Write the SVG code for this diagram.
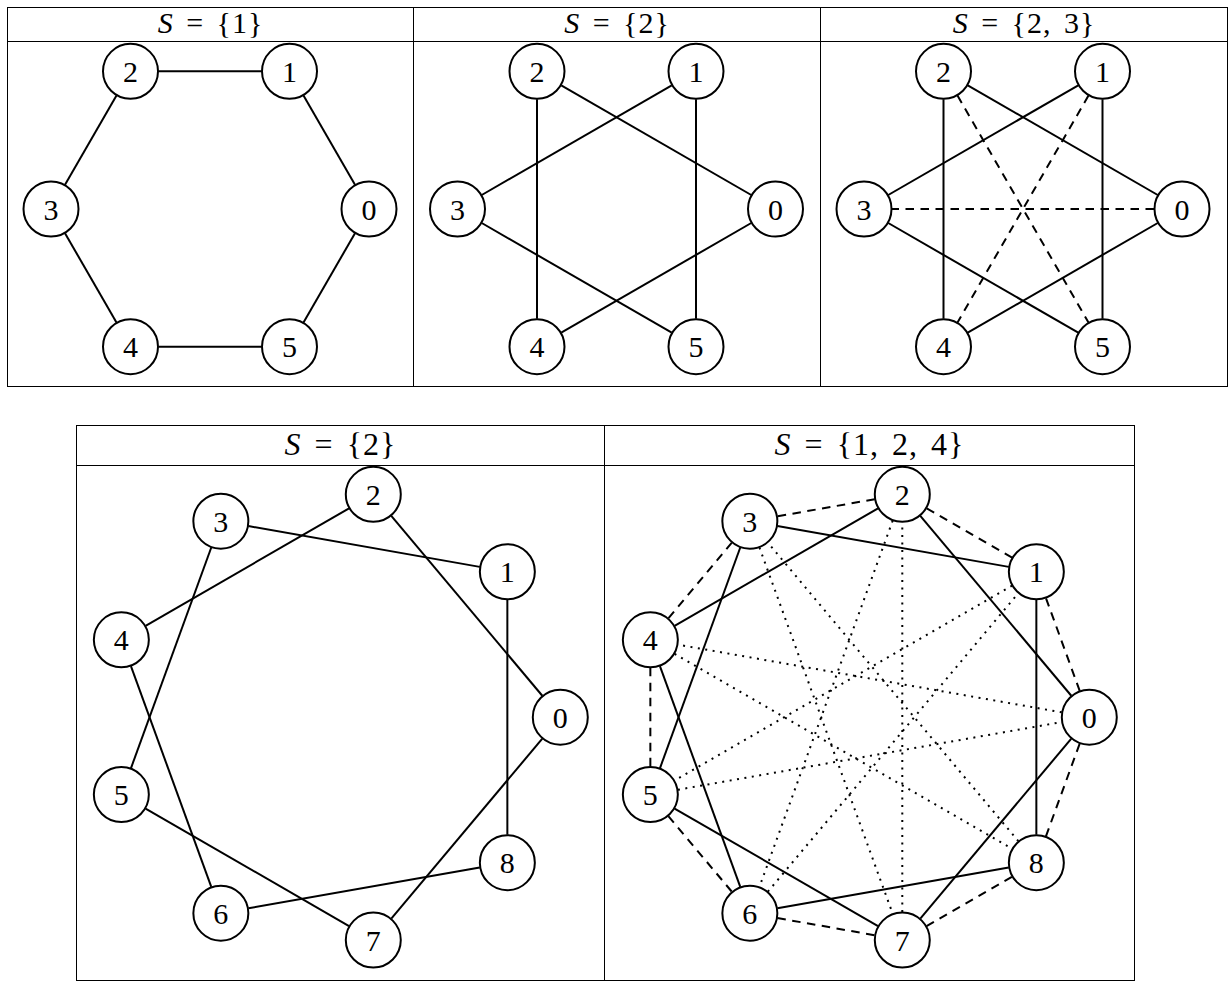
<svg xmlns="http://www.w3.org/2000/svg" width="1230" height="982" viewBox="0 0 1230 982">
<style>
.frame{fill:none;stroke:#000;stroke-width:1}
.node circle{fill:#fff;stroke:#000;stroke-width:2}
.node text{font-family:"Liberation Serif","Times New Roman",serif;font-size:30px;text-anchor:middle;fill:#000}
.hdr{font-family:"Liberation Serif","Times New Roman",serif;font-size:30px;text-anchor:middle;fill:#000;letter-spacing:1px;word-spacing:4px}
.hdr2{font-size:32px}
.e line{stroke:#000;stroke-width:2;fill:none}
.dash{stroke-dasharray:8.5 6.5}
.dot{stroke-dasharray:2 5.5}
</style>
<rect width="1230" height="982" fill="#fff"/>
<g id="tables">
  <rect class="frame" x="7.5" y="7.5" width="1220" height="379"/>
  <line class="frame" x1="7.5" y1="41.5" x2="1227.5" y2="41.5"/>
  <line class="frame" x1="413.5" y1="7.5" x2="413.5" y2="386.5"/>
  <line class="frame" x1="820.5" y1="7.5" x2="820.5" y2="386.5"/>
  <rect class="frame" x="76.5" y="425.5" width="1058" height="555"/>
  <line class="frame" x1="76.5" y1="465.5" x2="1134.5" y2="465.5"/>
  <line class="frame" x1="604.5" y1="425.5" x2="604.5" y2="980.5"/>
</g>
<g id="headers">
  <text class="hdr" x="210.5" y="32.5"><tspan font-style="italic">S</tspan> = {1}</text>
  <text class="hdr" x="617" y="32.5"><tspan font-style="italic">S</tspan> = {2}</text>
  <text class="hdr" x="1024" y="32.5"><tspan font-style="italic">S</tspan> = {2, 3}</text>
  <text class="hdr hdr2" x="340.5" y="455"><tspan font-style="italic">S</tspan> = {2}</text>
  <text class="hdr hdr2" x="869.5" y="455"><tspan font-style="italic">S</tspan> = {1, 2, 4}</text>
</g>
<g id="connectors">
  <g id="c-p1" class="e" transform="translate(210,209)">
    <line x1="145" y1="-24.25" x2="93.5" y2="-113.45"/>
    <line x1="51.5" y1="-137.7" x2="-51.5" y2="-137.7"/>
    <line x1="-93.5" y1="-113.45" x2="-145" y2="-24.25"/>
    <line x1="-145" y1="24.25" x2="-93.5" y2="113.45"/>
    <line x1="-51.5" y1="137.7" x2="51.5" y2="137.7"/>
    <line x1="93.5" y1="113.45" x2="145" y2="24.25"/>
  </g>
  <g id="c-p2" class="e" transform="translate(616.5,209)">
    <line x1="134.75" y1="-14" x2="-55.25" y2="-123.7"/>
    <line x1="55.25" y1="-123.7" x2="-134.75" y2="-14"/>
    <line x1="-79.5" y1="-109.7" x2="-79.5" y2="109.7"/>
    <line x1="-134.75" y1="14" x2="55.25" y2="123.7"/>
    <line x1="-55.25" y1="123.7" x2="134.75" y2="14"/>
    <line x1="79.5" y1="109.7" x2="79.5" y2="-109.7"/>
  </g>
  <g id="c-p3" class="e" transform="translate(1023,209)">
    <line x1="134.75" y1="-14" x2="-55.25" y2="-123.7"/>
    <line x1="55.25" y1="-123.7" x2="-134.75" y2="-14"/>
    <line x1="-79.5" y1="-109.7" x2="-79.5" y2="109.7"/>
    <line x1="-134.75" y1="14" x2="55.25" y2="123.7"/>
    <line x1="-55.25" y1="123.7" x2="134.75" y2="14"/>
    <line x1="79.5" y1="109.7" x2="79.5" y2="-109.7"/>
    <line class="dash" x1="131" y1="0" x2="-131" y2="0"/>
    <line class="dash" x1="65.5" y1="-113.45" x2="-65.5" y2="113.45"/>
    <line class="dash" x1="-65.5" y1="-113.45" x2="65.5" y2="113.45"/>
  </g>
  <g id="c-p4" class="e" transform="translate(334,717.2)">
    <line x1="208.3" y1="-21.45" x2="57.29" y2="-201.41"/>
    <line x1="145.78" y1="-150.33" x2="-85.58" y2="-191.12"/>
    <line x1="15.04" y1="-208.86" x2="-188.4" y2="-91.4"/>
    <line x1="-122.73" y1="-169.67" x2="-203.07" y2="51.09"/>
    <line x1="-203.07" y1="-51.09" x2="-122.73" y2="169.67"/>
    <line x1="-188.4" y1="91.4" x2="15.04" y2="208.86"/>
    <line x1="-85.58" y1="191.12" x2="145.78" y2="150.33"/>
    <line x1="57.29" y1="201.41" x2="208.3" y2="21.45"/>
    <line x1="173.35" y1="117.47" x2="173.35" y2="-117.47"/>
  </g>
  <g id="c-p5" class="e" transform="translate(863,717.2)">
    <line class="dash" x1="216.72" y1="-26.31" x2="182.93" y2="-119.16"/>
    <line class="dash" x1="149.1" y1="-159.47" x2="63.54" y2="-208.86"/>
    <line class="dash" x1="11.72" y1="-218" x2="-85.58" y2="-200.84"/>
    <line class="dash" x1="-131.15" y1="-174.53" x2="-194.65" y2="-98.85"/>
    <line class="dash" x1="-212.65" y1="-49.4" x2="-212.65" y2="49.4"/>
    <line class="dash" x1="-194.65" y1="98.85" x2="-131.15" y2="174.53"/>
    <line class="dash" x1="-85.58" y1="200.84" x2="11.72" y2="218"/>
    <line class="dash" x1="63.54" y1="208.86" x2="149.1" y2="159.47"/>
    <line class="dash" x1="182.93" y1="119.16" x2="216.72" y2="26.31"/>
    <line x1="208.3" y1="-21.45" x2="57.29" y2="-201.41"/>
    <line x1="145.78" y1="-150.33" x2="-85.58" y2="-191.12"/>
    <line x1="15.04" y1="-208.86" x2="-188.4" y2="-91.4"/>
    <line x1="-122.73" y1="-169.67" x2="-203.07" y2="51.09"/>
    <line x1="-203.07" y1="-51.09" x2="-122.73" y2="169.67"/>
    <line x1="-188.4" y1="91.4" x2="15.04" y2="208.86"/>
    <line x1="-85.58" y1="191.12" x2="145.78" y2="150.33"/>
    <line x1="57.29" y1="201.41" x2="208.3" y2="21.45"/>
    <line x1="173.35" y1="117.47" x2="173.35" y2="-117.47"/>
    <line class="dot" x1="198.73" y1="-4.86" x2="-185.08" y2="-72.54"/>
    <line class="dot" x1="149.1" y1="-131.47" x2="-188.4" y2="63.4"/>
    <line class="dot" x1="29.71" y1="-196.55" x2="-103.57" y2="169.67"/>
    <line class="dot" x1="-103.57" y1="-169.67" x2="29.71" y2="196.55"/>
    <line class="dot" x1="-188.4" y1="-63.4" x2="149.1" y2="131.47"/>
    <line class="dot" x1="-185.08" y1="72.54" x2="198.73" y2="4.86"/>
    <line class="dot" x1="-95.15" y1="174.53" x2="155.35" y2="-124.02"/>
    <line class="dot" x1="39.29" y1="194.86" x2="39.29" y2="-194.86"/>
    <line class="dot" x1="155.35" y1="124.02" x2="-95.15" y2="-174.53"/>
  </g>
</g>
<g id="nodes-p1" transform="translate(210,209)">
  <g id="p1-n0" class="node" transform="translate(159,0)"><circle r="27.5"/><text y="10.5">0</text></g>
  <g id="p1-n1" class="node" transform="translate(79.5,-137.7)"><circle r="27.5"/><text y="10.5">1</text></g>
  <g id="p1-n2" class="node" transform="translate(-79.5,-137.7)"><circle r="27.5"/><text y="10.5">2</text></g>
  <g id="p1-n3" class="node" transform="translate(-159,0)"><circle r="27.5"/><text y="10.5">3</text></g>
  <g id="p1-n4" class="node" transform="translate(-79.5,137.7)"><circle r="27.5"/><text y="10.5">4</text></g>
  <g id="p1-n5" class="node" transform="translate(79.5,137.7)"><circle r="27.5"/><text y="10.5">5</text></g>
</g>
<g id="nodes-p2" transform="translate(616.5,209)">
  <g id="p2-n0" class="node" transform="translate(159,0)"><circle r="27.5"/><text y="10.5">0</text></g>
  <g id="p2-n1" class="node" transform="translate(79.5,-137.7)"><circle r="27.5"/><text y="10.5">1</text></g>
  <g id="p2-n2" class="node" transform="translate(-79.5,-137.7)"><circle r="27.5"/><text y="10.5">2</text></g>
  <g id="p2-n3" class="node" transform="translate(-159,0)"><circle r="27.5"/><text y="10.5">3</text></g>
  <g id="p2-n4" class="node" transform="translate(-79.5,137.7)"><circle r="27.5"/><text y="10.5">4</text></g>
  <g id="p2-n5" class="node" transform="translate(79.5,137.7)"><circle r="27.5"/><text y="10.5">5</text></g>
</g>
<g id="nodes-p3" transform="translate(1023,209)">
  <g id="p3-n0" class="node" transform="translate(159,0)"><circle r="27.5"/><text y="10.5">0</text></g>
  <g id="p3-n1" class="node" transform="translate(79.5,-137.7)"><circle r="27.5"/><text y="10.5">1</text></g>
  <g id="p3-n2" class="node" transform="translate(-79.5,-137.7)"><circle r="27.5"/><text y="10.5">2</text></g>
  <g id="p3-n3" class="node" transform="translate(-159,0)"><circle r="27.5"/><text y="10.5">3</text></g>
  <g id="p3-n4" class="node" transform="translate(-79.5,137.7)"><circle r="27.5"/><text y="10.5">4</text></g>
  <g id="p3-n5" class="node" transform="translate(79.5,137.7)"><circle r="27.5"/><text y="10.5">5</text></g>
</g>
<g id="nodes-p4" transform="translate(334,717.2)">
  <g id="p4-n0" class="node" transform="translate(226.3,0)"><circle r="27.5"/><text y="10.5">0</text></g>
  <g id="p4-n1" class="node" transform="translate(173.35,-145.47)"><circle r="27.5"/><text y="10.5">1</text></g>
  <g id="p4-n2" class="node" transform="translate(39.29,-222.86)"><circle r="27.5"/><text y="10.5">2</text></g>
  <g id="p4-n3" class="node" transform="translate(-113.15,-195.98)"><circle r="27.5"/><text y="10.5">3</text></g>
  <g id="p4-n4" class="node" transform="translate(-212.65,-77.4)"><circle r="27.5"/><text y="10.5">4</text></g>
  <g id="p4-n5" class="node" transform="translate(-212.65,77.4)"><circle r="27.5"/><text y="10.5">5</text></g>
  <g id="p4-n6" class="node" transform="translate(-113.15,195.98)"><circle r="27.5"/><text y="10.5">6</text></g>
  <g id="p4-n7" class="node" transform="translate(39.29,222.86)"><circle r="27.5"/><text y="10.5">7</text></g>
  <g id="p4-n8" class="node" transform="translate(173.35,145.47)"><circle r="27.5"/><text y="10.5">8</text></g>
</g>
<g id="nodes-p5" transform="translate(863,717.2)">
  <g id="p5-n0" class="node" transform="translate(226.3,0)"><circle r="27.5"/><text y="10.5">0</text></g>
  <g id="p5-n1" class="node" transform="translate(173.35,-145.47)"><circle r="27.5"/><text y="10.5">1</text></g>
  <g id="p5-n2" class="node" transform="translate(39.29,-222.86)"><circle r="27.5"/><text y="10.5">2</text></g>
  <g id="p5-n3" class="node" transform="translate(-113.15,-195.98)"><circle r="27.5"/><text y="10.5">3</text></g>
  <g id="p5-n4" class="node" transform="translate(-212.65,-77.4)"><circle r="27.5"/><text y="10.5">4</text></g>
  <g id="p5-n5" class="node" transform="translate(-212.65,77.4)"><circle r="27.5"/><text y="10.5">5</text></g>
  <g id="p5-n6" class="node" transform="translate(-113.15,195.98)"><circle r="27.5"/><text y="10.5">6</text></g>
  <g id="p5-n7" class="node" transform="translate(39.29,222.86)"><circle r="27.5"/><text y="10.5">7</text></g>
  <g id="p5-n8" class="node" transform="translate(173.35,145.47)"><circle r="27.5"/><text y="10.5">8</text></g>
</g>
</svg>
